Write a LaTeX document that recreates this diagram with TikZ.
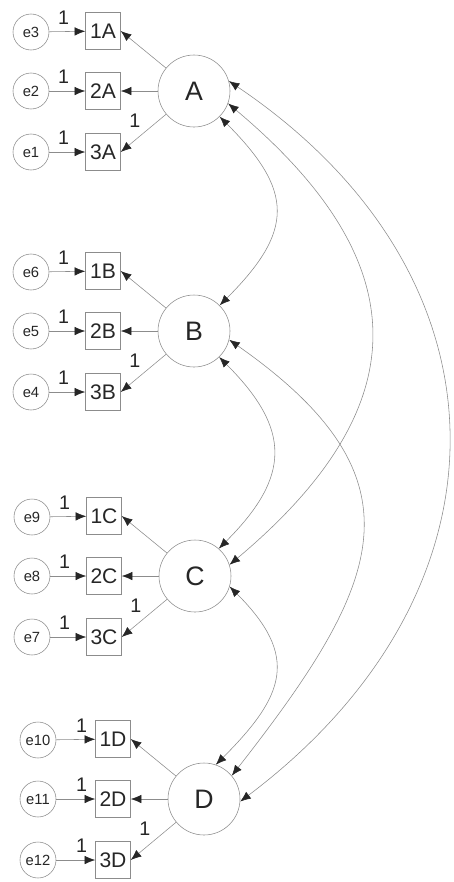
\documentclass[tikz,border=0pt]{standalone}
\usepackage{fontspec}
\setmainfont{Liberation Sans}
\usetikzlibrary{arrows.meta,positioning}

\definecolor{linegray}{gray}{0.55}
\definecolor{tipgray}{gray}{0.15}

\begin{document}
\begin{tikzpicture}[x=0.25mm, y=0.25mm,
    % --- Node styles ---
    latent/.style={draw=linegray, circle, minimum size=18mm, inner sep=0pt,
                   text=black!85, font=\fontsize{19}{21}\selectfont},
    obsbox/.style={draw=linegray, rectangle, minimum width=8.75mm, minimum height=9.25mm,
                   inner sep=0pt, text=black!85, font=\fontsize{15}{17}\selectfont},
    errvar/.style={draw=linegray, circle, minimum size=9mm, inner sep=0pt,
                   text=black!85, font=\fontsize{10.5}{12}\selectfont},
    fixed/.style={text=black!85, inner sep=1pt, font=\fontsize{14}{16}\selectfont},
    % --- Edge styles ---
    path edge/.style={linegray, thin, -{Latex[length=7.5pt, width=6pt, color=tipgray]}},
    covar/.style={linegray, thin,
                  {Latex[length=7.5pt, width=6pt, color=tipgray]}-{Latex[length=7.5pt, width=6pt, color=tipgray]}},
]
\useasboundingbox (0,0) rectangle (453,-882);

% ============================================================
% Measurement part: one latent factor, three indicators, three errors
% ============================================================
\foreach \f/\lx/\ly/\ea/\eb/\ec/\ex/\lp in {A/194/91/3/2/1/-163/0.4,
                                          B/194/331/6/5/4/-163/0.4,
                                          C/195/576/9/8/7/-163/0.4,
                                          D/204/799/10/11/12/-166/0.65} {
  \begin{scope}[shift={(\lx,-\ly)}]
    \node[latent] (\f) at (0,0) {\f};

    % indicators
    \node[obsbox] (\f1) at (-91, 60) {1\f};
    \node[obsbox] (\f2) at (-91,  0) {2\f};
    \node[obsbox] (\f3) at (-91,-61) {3\f};

    % error terms
    \node[errvar] (e\ea) at (\ex, 59) {e\ea};
    \node[errvar] (e\eb) at (\ex,  0) {e\eb};
    \node[errvar] (e\ec) at (\ex,-61) {e\ec};

    % errors -> indicators (fixed at 1)
    \draw[path edge] (e\ea) -- node[pos=\lp, above=4pt, fixed] {1} (\f1);
    \draw[path edge] (e\eb) -- node[pos=\lp, above=4pt, fixed] {1} (\f2);
    \draw[path edge] (e\ec) -- node[pos=\lp, above=4pt, fixed] {1} (\f3);

    % loadings
    \draw[path edge] (\f) -- (\f1.east);
    \draw[path edge] (\f) -- (\f2);
    \draw[path edge] (\f) -- node[above left=3pt and 1pt, fixed] {1} (\f3.east);
  \end{scope}
}

% ============================================================
% Factor covariances
% ============================================================
\draw[covar] (A.-45) to[out=-45, in=45, looseness=1.43] (B.45);
\draw[covar] (A.-20) to[out=-40, in=40, looseness=1.37] (C.18);
\draw[covar] (A.16)  to[out=-34, in=37, looseness=1.24] (D.-4);
\draw[covar] (B.-46) to[out=-45, in=45, looseness=1.36] (C.49);
\draw[covar] (B.-14) to[out=-35, in=52, looseness=1.43] (D.40);
\draw[covar] (C.-17) to[out=-45, in=45, looseness=1.41] (D.71);

\end{tikzpicture}
\end{document}
